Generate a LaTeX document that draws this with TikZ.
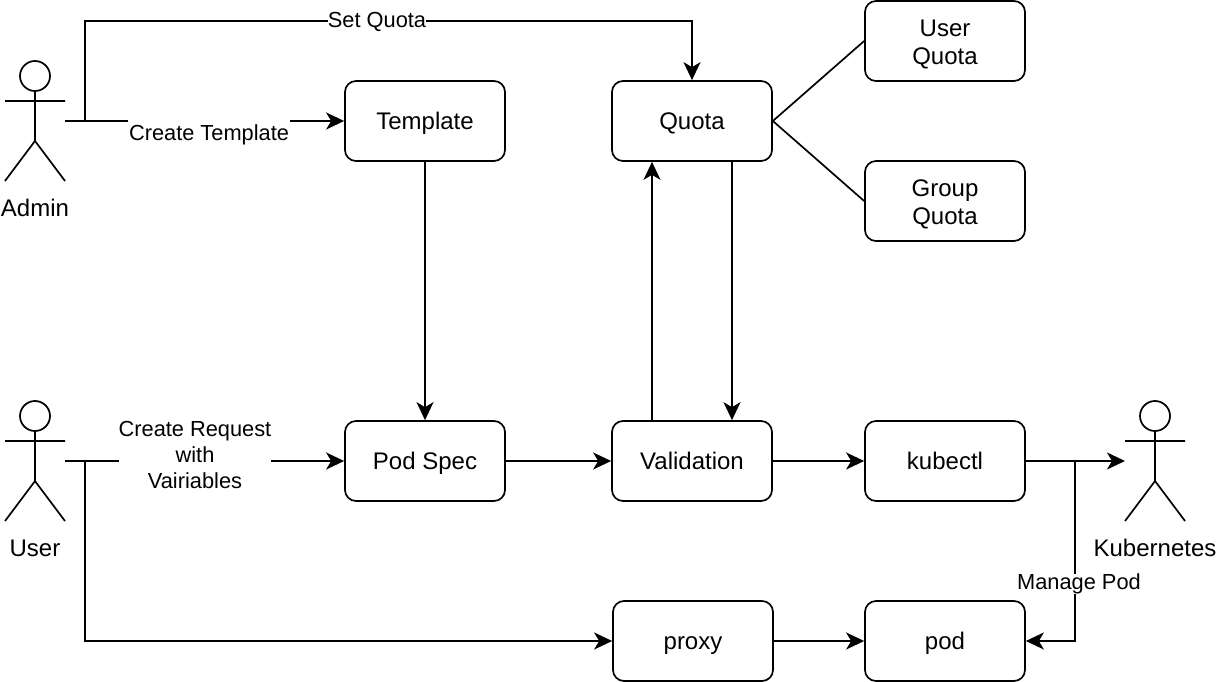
\documentclass[tikz,border=0pt]{standalone}
\usepackage{fontspec}
\setmainfont{Liberation Sans}
\usetikzlibrary{arrows.meta}
\newcommand{\boxone}[1]{\smash{\raisebox{-8.5pt}{#1}}}
\newcommand{\boxtwo}[2]{\makebox[0pt]{\smash{\raisebox{4.5pt}{#1}}}\makebox[0pt]{\smash{\raisebox{-23.5pt}{#2}}}}
\begin{document}
\begin{tikzpicture}[x=1pt,y=-1pt,
  box/.style={draw=black,line width=1.7pt,rounded corners=11pt,minimum width=160pt,minimum height=80pt,inner sep=0pt,align=center,font=\fontsize{24}{28}\selectfont,fill=white},
  lab/.style={font=\fontsize{21.8}{26}\selectfont,align=center,fill=white,inner sep=0pt},
  actorlabel/.style={font=\fontsize{24}{28}\selectfont,inner sep=0pt},
  conn/.style={line width=1.7pt,-{Stealth[length=18pt,width=17pt,inset=5pt]}},
  plain/.style={line width=1.7pt}]
\useasboundingbox (0,0) rectangle (1216,682);
\node[box] (template) at (425,121) {\boxone{Template}};
\node[box] (quota) at (692,121) {\boxone{Quota}};
\node[box] (uq) at (945,41) {\boxtwo{User}{Quota}};
\node[box] (gq) at (945,201) {\boxtwo{Group}{Quota}};
\node[box] (podspec) at (425,461) {\boxone{Pod Spec}};
\node[box] (valid) at (692,461) {\boxone{Validation}};
\node[box] (kubectl) at (945,461) {\boxone{kubectl}};
\node[box] (proxy) at (693,641) {\boxone{proxy}};
\node[box] (pod) at (945,641) {\boxone{pod}};
\newcommand{\actorfig}[2]{%
 \draw[plain,fill=white] (#1,#2+15) circle (15);
 \draw[plain] (#1,#2+30) -- (#1,#2+80) (#1-30,#2+40) -- (#1+30,#2+40)
   (#1-30,#2+120) -- (#1,#2+80) -- (#1+30,#2+120);}
\actorfig{35}{61}
\actorfig{35}{401}
\actorfig{1155}{401}
\coordinate (aw) at (65,121);
\coordinate (uw) at (65,461);
\coordinate (ke) at (1125,461);
\coordinate (ajoin) at (85,121);
\coordinate (atop) at (85,21);
\coordinate (qtop) at (692,21);
\coordinate (ujoin) at (85,461);
\coordinate (ubot) at (85,641);
\coordinate (kjoin) at (1075,461);
\coordinate (kbot) at (1075,641);
\node[actorlabel] (adminl) at (35,208) {Admin};
\node[actorlabel] (userl) at (35,548) {User};
\node[actorlabel] (kubl) at (1155,548) {Kubernetes};
\draw[conn] (aw) -- (template);
\node[lab,minimum width=162pt,minimum height=28pt] (lt) at (209,134.5) {Create Template};
\draw[conn] (ajoin) -- (atop) -- (qtop) -- (quota);
\node[lab] (ls) at (377,21.5) {Set Quota};
\draw[conn] (template) -- (podspec);
\draw[conn] (uw) -- (podspec);
\node[lab] (lr) at (195,455) {Create Request\\with\\Vairiables};
\draw[conn] (podspec) -- (valid);
\draw[conn] (valid) -- (kubectl);
\draw[conn] (kubectl) -- (ke);
\draw[conn] (valid.north -| 652,0) -- (quota.south -| 652,0);
\draw[conn] (quota.south -| 732,0) -- (valid.north -| 732,0);
\draw[plain] (quota.east) -- (uq.west);
\draw[plain] (quota.east) -- (gq.west);
\draw[conn] (ujoin) -- (ubot) -- (proxy);
\draw[conn] (proxy) -- (pod);
\draw[conn] (kjoin) -- (kbot) -- (pod);
\node[lab] (lm) at (1079,584) {Manage Pod};
\end{tikzpicture}
\end{document}
